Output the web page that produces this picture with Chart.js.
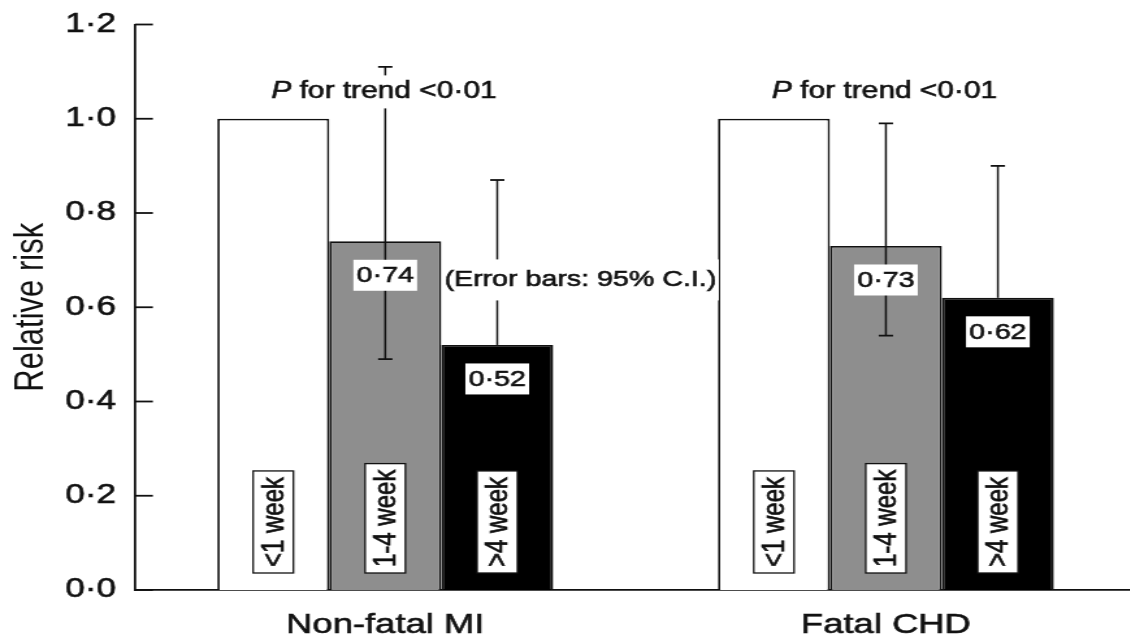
<!DOCTYPE html>
<html>
<head>
<meta charset="utf-8">
<script src="https://cdn.jsdelivr.net/npm/chart.js@4"></script>
<style>
    html, body { margin: 0; padding: 0; background: #fff; overflow: hidden; }
    /* the source figure is stretched sideways, so the canvas is too */
    #wrap { width: 876px; height: 643px; transform: scaleX(1.3); transform-origin: 0 0; }
    #chart { display: block; }
</style>
</head>
<body>
<div id="wrap"><canvas id="chart" width="876" height="643"></canvas></div>
<script>
const groups = ['Non-fatal MI', 'Fatal CHD'];
const durations = ['<1 week', '1-4 week', '>4 week'];

const riskUnder1 = [1.0, 1.0];
const risk1to4 = [0.74, 0.73];
const riskOver4 = [0.52, 0.62];

// 95% CI, null where the whisker is hidden inside the black bar
const ciLow1to4 = [0.49, 0.54];
const ciHigh1to4 = [1.11, 0.99];
const ciLowOver4 = [null, null];
const ciHighOver4 = [0.87, 0.90];

const yTicks = [0, 0.2, 0.4, 0.6, 0.8, 1.0, 1.2];
const trendText = ['P', ' for trend <0·01'];
const noteText = '(Error bars: 95% C.I.)';

const INK = '#111111';
const FONT = "'Liberation Sans', Arial, sans-serif";
const HEAVY = 0.6; // thin outline so text looks medium weight like the scan

function fmt(v) {
    return v.toFixed(2).replace('.', '·');
}

function inkText(ctx, txt, x, y) {
    ctx.fillText(txt, x, y);
    ctx.lineWidth = HEAVY;
    ctx.strokeText(txt, x, y);
}

const ciLow = [null, ciLow1to4, ciLowOver4];
const ciHigh = [null, ciHigh1to4, ciHighOver4];

const extras = {
    id: 'extras',
    afterDatasetsDraw(chart) {
        const ctx = chart.ctx;
        const y = chart.scales.y;
        const area = chart.chartArea;

        ctx.save();
        ctx.strokeStyle = INK;
        ctx.lineWidth = 1.8;

        // inward tick marks
        yTicks.forEach(function (t) {
            const py = y.getPixelForValue(t);
            ctx.beginPath();
            ctx.moveTo(area.left, py);
            ctx.lineTo(area.left + 13.8, py);
            ctx.stroke();
        });

        // error bars
        [1, 2].forEach(function (d) {
            const meta = chart.getDatasetMeta(d);
            meta.data.forEach(function (el, j) {
                const top = y.getPixelForValue(ciHigh[d][j]);
                const bot = ciLow[d][j] === null ? el.y : y.getPixelForValue(ciLow[d][j]);
                ctx.lineWidth = 1.5;
                ctx.beginPath();
                ctx.moveTo(el.x, bot);
                ctx.lineTo(el.x, top);
                ctx.stroke();
                ctx.lineWidth = 1.8;
                ctx.beginPath();
                ctx.moveTo(el.x - 5.5, top);
                ctx.lineTo(el.x + 5.5, top);
                if (ciLow[d][j] !== null) {
                    ctx.moveTo(el.x - 5.5, bot);
                    ctx.lineTo(el.x + 5.5, bot);
                }
                ctx.stroke();
            });
        });

        ctx.textAlign = 'center';
        ctx.textBaseline = 'middle';

        // value labels in white boxes
        ctx.font = '22px ' + FONT;
        [1, 2].forEach(function (d) {
            const meta = chart.getDatasetMeta(d);
            meta.data.forEach(function (el, j) {
                const txt = fmt(chart.data.datasets[d].data[j]);
                const w = ctx.measureText(txt).width + 5;
                const cy = el.y + 34;
                ctx.fillStyle = '#fff';
                ctx.fillRect(el.x - w / 2, cy - 15.5, w, 31);
                ctx.fillStyle = INK;
                inkText(ctx, txt, el.x, cy + 1);
            });
        });

        // duration labels, rotated, in bordered boxes
        ctx.font = '24px ' + FONT;
        [0, 1, 2].forEach(function (d) {
            const meta = chart.getDatasetMeta(d);
            meta.data.forEach(function (el) {
                const txt = durations[d];
                const len = ctx.measureText(txt).width + 12;
                const thick = 31;
                const bottom = area.bottom - 17;
                ctx.save();
                ctx.translate(el.x, bottom - len / 2);
                ctx.rotate(-Math.PI / 2);
                ctx.fillStyle = '#fff';
                ctx.fillRect(-len / 2, -thick / 2, len, thick);
                ctx.lineWidth = 1.3;
                ctx.strokeRect(-len / 2, -thick / 2, len, thick);
                ctx.fillStyle = INK;
                inkText(ctx, txt, 0, 1);
                ctx.restore();
            });
        });

        // P for trend, centred over the 1-4 week bar
        const trendY = y.getPixelForValue(1.057);
        chart.getDatasetMeta(1).data.forEach(function (el) {
            ctx.font = 'italic 23px ' + FONT;
            const wP = ctx.measureText(trendText[0]).width;
            ctx.font = '23px ' + FONT;
            const wR = ctx.measureText(trendText[1]).width;
            const w = wP + wR;
            const left = el.x - w / 2 - 1;
            ctx.fillStyle = '#fff';
            ctx.fillRect(left - 3, trendY - 16.5, w + 6, 33);
            ctx.fillStyle = INK;
            ctx.textAlign = 'left';
            ctx.font = 'italic 23px ' + FONT;
            inkText(ctx, trendText[0], left, trendY);
            ctx.font = '23px ' + FONT;
            inkText(ctx, trendText[1], left + wP, trendY);
        });

        // error bar note beside the first 1-4 week bar
        const g = chart.getDatasetMeta(1).data[0];
        const noteLeft = g.x + g.width / 2 + 1.5;
        const noteY = y.getPixelForValue(0.658);
        ctx.font = '22px ' + FONT;
        const nw = ctx.measureText(noteText).width;
        ctx.fillStyle = '#fff';
        ctx.fillRect(noteLeft, noteY - 20.5, nw + 3, 41);
        ctx.fillStyle = INK;
        ctx.textAlign = 'left';
        inkText(ctx, noteText, noteLeft + 1, noteY);

        ctx.restore();
    }
};

const ctx = document.getElementById('chart').getContext('2d');
new Chart(ctx, {
    type: 'bar',
    data: {
        labels: groups,
        datasets: [
            { label: durations[0], data: riskUnder1, backgroundColor: '#ffffff' },
            { label: durations[1], data: risk1to4, backgroundColor: '#8e8e8e' },
            { label: durations[2], data: riskOver4, backgroundColor: '#000000' }
        ]
    },
    options: {
        responsive: false,
        animation: false,
        devicePixelRatio: 1,
        layout: { padding: { left: 6, right: 2, top: 24.5, bottom: 5 } },
        datasets: {
            bar: {
                borderColor: INK,
                borderWidth: 1.8,
                categoryPercentage: 0.671,
                barPercentage: 1.0
            }
        },
        plugins: {
            legend: { display: false },
            tooltip: { enabled: false }
        },
        scales: {
            x: {
                afterFit: function (scale) { scale.height = 48; },
                grid: { display: false, drawTicks: false },
                border: { color: INK, width: 1.8 },
                ticks: {
                    color: INK,
                    font: { family: FONT, size: 28 },
                    padding: 18,
                    textStrokeColor: INK,
                    textStrokeWidth: HEAVY
                }
            },
            y: {
                min: 0,
                max: 1.2,
                afterBuildTicks: function (scale) {
                    scale.ticks = yTicks.map(function (v) { return { value: v }; });
                },
                afterFit: function (scale) {
                    scale.width = 97.8;
                    scale.paddingTop = 0;
                    scale.paddingBottom = 0;
                },
                grid: { display: false, drawTicks: false },
                border: { color: INK, width: 1.8 },
                ticks: {
                    color: INK,
                    font: { family: FONT, size: 27 },
                    padding: 14.6,
                    textStrokeColor: INK,
                    textStrokeWidth: HEAVY,
                    callback: function (v) { return v.toFixed(1).replace('.', '·'); }
                },
                title: {
                    display: true,
                    text: 'Relative risk',
                    color: INK,
                    font: { family: FONT, size: 31 },
                    padding: 0
                }
            }
        }
    },
    plugins: [extras]
});
</script>
</body>
</html>
